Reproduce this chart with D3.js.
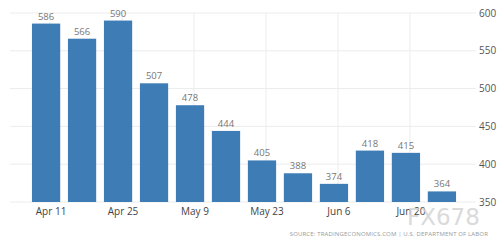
<!DOCTYPE html>
<html><head><meta charset="utf-8">
<script src="https://cdn.jsdelivr.net/npm/d3@7/dist/d3.min.js"></script>
<style>body{margin:0;background:#fff}svg{display:block}</style>
</head><body><svg id="c" width="500" height="250"></svg>
<script>
const categories = ["Apr 11","Apr 18","Apr 25","May 2","May 9","May 16","May 23","May 30","Jun 6","Jun 13","Jun 20","Jun 27"];
const values = [586,566,590,507,478,444,405,388,374,418,415,364];
const tickLabels = ["Apr 11","Apr 25","May 9","May 23","Jun 6","Jun 20"];
const yTicks = [350,400,450,500,550,600];

const svg = d3.select("#c");
const x = d3.scaleBand().domain(categories).range([28, 460]).paddingInner(0.215).paddingOuter(0.11);
const y = d3.scaleLinear().domain([350, 600]).range([202, 13]);
const font = "'Open Sans', sans-serif";

// horizontal grid
svg.append("g").selectAll("line").data(yTicks).join("line")
  .attr("x1", 10).attr("x2", 476).attr("y1", d => y(d)).attr("y2", d => y(d))
  .attr("stroke", "#ececec").attr("stroke-width", 1);
// vertical grid
svg.append("g").selectAll("line").data(tickLabels).join("line")
  .attr("x1", d => x(d) + x.bandwidth()/2 + 4).attr("x2", d => x(d) + x.bandwidth()/2 + 4)
  .attr("y1", 13).attr("y2", 202).attr("stroke", "#ececec");

// bars
svg.append("g").selectAll("rect").data(values).join("rect")
  .attr("x", (d,i) => x(categories[i])).attr("width", x.bandwidth())
  .attr("y", d => y(d)).attr("height", d => y(350) - y(d))
  .attr("fill", "#3e7cb6");

// value labels
svg.append("g").selectAll("text").data(values).join("text")
  .attr("x", (d,i) => x(categories[i]) + x.bandwidth()/2)
  .attr("y", d => y(d) - 4)
  .attr("text-anchor", "middle").attr("font-family", font).attr("font-size", 9.5)
  .attr("fill", "#777").text(d => d);

// x axis labels
svg.append("g").selectAll("text").data(tickLabels).join("text")
  .attr("x", d => x(d) + x.bandwidth()/2 + 5).attr("y", 215)
  .attr("text-anchor", "middle").attr("font-family", font).attr("font-size", 10)
  .attr("fill", "#444").text(d => d);

// y axis labels (right)
svg.append("g").selectAll("text").data(yTicks).join("text")
  .attr("x", 479).attr("y", d => y(d) + 3.5)
  .attr("font-family", font).attr("font-size", 10)
  .attr("fill", "#555").text(d => d);

// watermark
svg.append("text").attr("x", 407).attr("y", 225).attr("font-family", "'DejaVu Sans', sans-serif")
  .attr("font-size", 23).attr("fill", "#d2d2d2").attr("opacity", 0.8).text("FX678");

// source
svg.append("text").attr("x", 488).attr("y", 236).attr("text-anchor", "end")
  .attr("font-family", font).attr("font-size", 6).attr("letter-spacing", 0.15)
  .attr("fill", "#999").text("SOURCE: TRADINGECONOMICS.COM | U.S. DEPARTMENT OF LABOR");
</script></body></html>
